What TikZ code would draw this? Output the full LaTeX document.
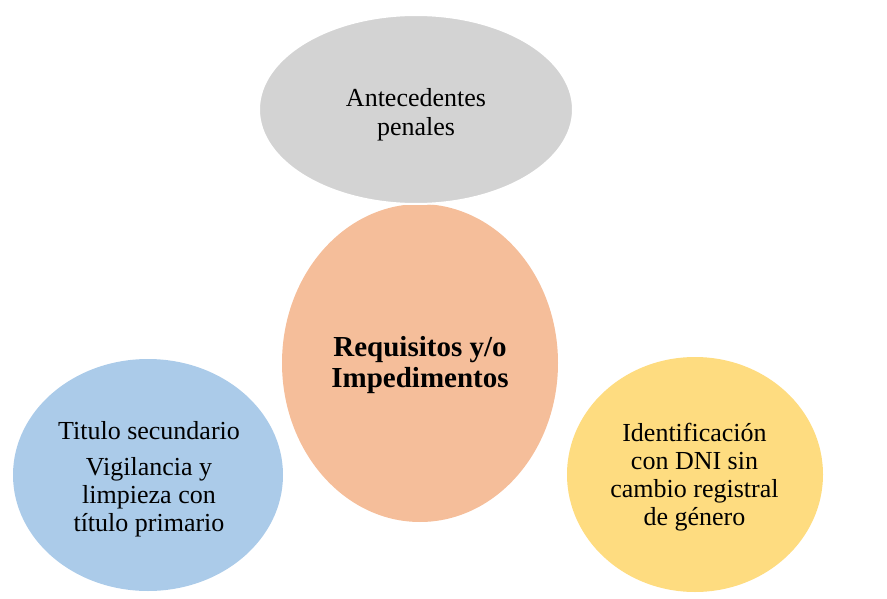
\documentclass[tikz,border=0pt]{standalone}
\usepackage{fontspec}
\setmainfont{Liberation Serif}
\usetikzlibrary{shapes.geometric}
\definecolor{cgray}{HTML}{D3D3D3}
\definecolor{corange}{HTML}{F5BE9A}
\definecolor{cblue}{HTML}{ABCBE9}
\definecolor{cyellow}{HTML}{FEDC80}
\tikzset{
  blob/.style={ellipse, inner sep=0pt, outer sep=0pt},
  label26/.style={align=center, inner sep=0pt, font=\fontsize{26}{28}\selectfont},
  labelbold/.style={align=center, inner sep=0pt, font=\fontsize{29}{31.6}\selectfont\bfseries}
}
\begin{document}
\begin{tikzpicture}[x=1pt,y=-1pt]
\useasboundingbox (0,0) rectangle (887,599);
\node[blob, fill=corange, minimum width=276pt, minimum height=318pt] (req) at (420,363) {};
\node[blob, fill=cgray, draw=white, line width=2pt, minimum width=314pt, minimum height=189pt] (ant) at (416,109.5) {};
\node[blob, fill=cblue, minimum width=270pt, minimum height=232pt] (tit) at (148,475) {};
\node[blob, fill=cyellow, minimum width=256pt, minimum height=235pt] (idn) at (695,474.5) {};
\node[label26, font=\fontsize{26}{29}\selectfont] (tant) at (416,115) {Antecedentes\\penales};
\node[labelbold] (treq) at (420,365) {Requisitos y/o\\Impedimentos};
\node[label26] (ttit) at (149,479) {Titulo secundario\\[8.5pt]Vigilancia y\\limpieza con\\título primario};
\node[label26, font=\fontsize{26}{27.8}\selectfont] (tidn) at (694.5,477) {Identificación\\con DNI sin\\cambio registral\\de género};
\end{tikzpicture}
\end{document}
